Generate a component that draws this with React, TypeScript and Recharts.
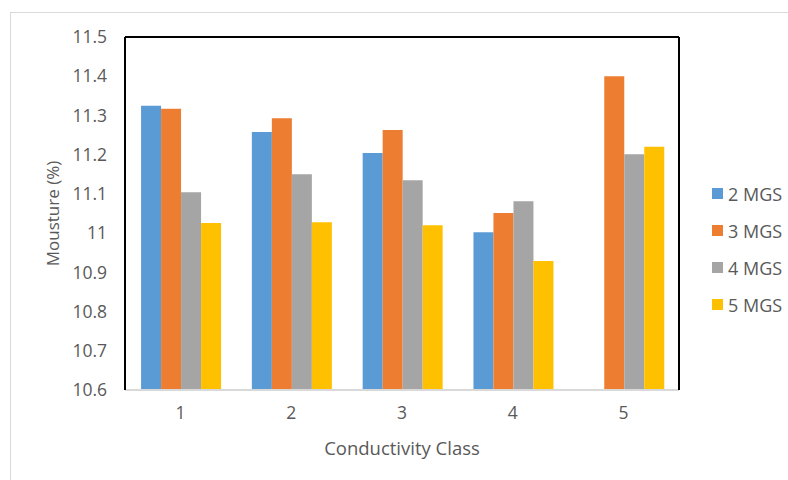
import { Bar, BarChart, Label, ReferenceLine, XAxis, YAxis } from "recharts";

const CLASSES = ["1", "2", "3", "4", "5"];
const MGS2 = [11.325, 11.258, 11.204, 11.002, null];
const MGS3 = [11.317, 11.293, 11.263, 11.051, 11.4];
const MGS4 = [11.104, 11.15, 11.135, 11.081, 11.201];
const MGS5 = [11.026, 11.028, 11.02, 10.929, 11.22];
const Y_TICKS = [10.6, 10.7, 10.8, 10.9, 11, 11.1, 11.2, 11.3, 11.4, 11.5];

const SERIES = [
  { key: "m2", name: "2 MGS", color: "#5B9BD5" },
  { key: "m3", name: "3 MGS", color: "#ED7D31" },
  { key: "m4", name: "4 MGS", color: "#A5A5A5" },
  { key: "m5", name: "5 MGS", color: "#FFC000" },
];

const data = CLASSES.map((c, i) => ({
  cls: c,
  m2: MGS2[i],
  m3: MGS3[i],
  m4: MGS4[i],
  m5: MGS5[i],
}));

const FONT = "'Open Sans', sans-serif";
const TEXT = "#595959";

export default function App() {
  return (
    <div
      style={{
        position: "absolute",
        left: 0,
        top: 0,
        width: 788,
        height: 480,
        overflow: "hidden",
        background: "#fff",
        fontFamily: FONT,
      }}
    >
      {/* faint outer chart frame, only top/left visible in the crop */}
      <div
        style={{
          position: "absolute",
          left: 10,
          top: 12,
          width: 800,
          height: 500,
          borderLeft: "1px solid #d9d9d9",
          borderTop: "1px solid #d9d9d9",
        }}
      />
      <div style={{ position: "absolute", left: 0, top: 0 }}>
        <BarChart
          width={788}
          height={480}
          data={data}
          margin={{ top: 37, right: 108, bottom: 0, left: 20 }}
          barCategoryGap="14.5%"
          barGap={0}
        >
          <XAxis
            dataKey="cls"
            height={90}
            tickLine={false}
            tickSize={0}
            tickMargin={17}
            axisLine={{ stroke: "#d9d9d9", strokeWidth: 2 }}
            tick={{ fill: TEXT, fontSize: 17.5, fontFamily: FONT }}
          >
            <Label
              value="Conductivity Class"
              position="insideBottom"
              offset={25}
              fill={TEXT}
              fontSize={18.5}
              fontFamily={FONT}
            />
          </XAxis>
          <YAxis
            width={105}
            domain={[10.6, 11.5]}
            ticks={Y_TICKS}
            allowDataOverflow
            tickLine={false}
            tickSize={0}
            tickMargin={18}
            axisLine={{ stroke: "#000", strokeWidth: 2 }}
            tick={{ fill: TEXT, fontSize: 17.5, fontFamily: FONT }}
          >
            <Label
              value="Mousture (%)"
              angle={-90}
              position="center"
              dx={-20}
              fill={TEXT}
              fontSize={17}
              fontFamily={FONT}
            />
          </YAxis>
          <YAxis
            yAxisId="r"
            orientation="right"
            width={1}
            domain={[10.6, 11.5]}
            tick={false}
            tickLine={false}
            axisLine={{ stroke: "#000", strokeWidth: 2 }}
          />
          {SERIES.map((s) => (
            <Bar
              key={s.key}
              dataKey={s.key}
              name={s.name}
              fill={s.color}
              isAnimationActive={false}
            />
          ))}
          <ReferenceLine y={11.5} stroke="#000" strokeWidth={2} ifOverflow="extendDomain" />
        </BarChart>
      </div>
      <div style={{ position: "absolute", left: 712, top: 175 }}>
        {SERIES.map((s) => (
          <div
            key={s.key}
            style={{ display: "flex", alignItems: "center", height: 37, color: TEXT, fontSize: 18 }}
          >
            <span style={{ width: 11, height: 11, background: s.color, marginRight: 5 }} />
            {s.name}
          </div>
        ))}
      </div>
    </div>
  );
}
